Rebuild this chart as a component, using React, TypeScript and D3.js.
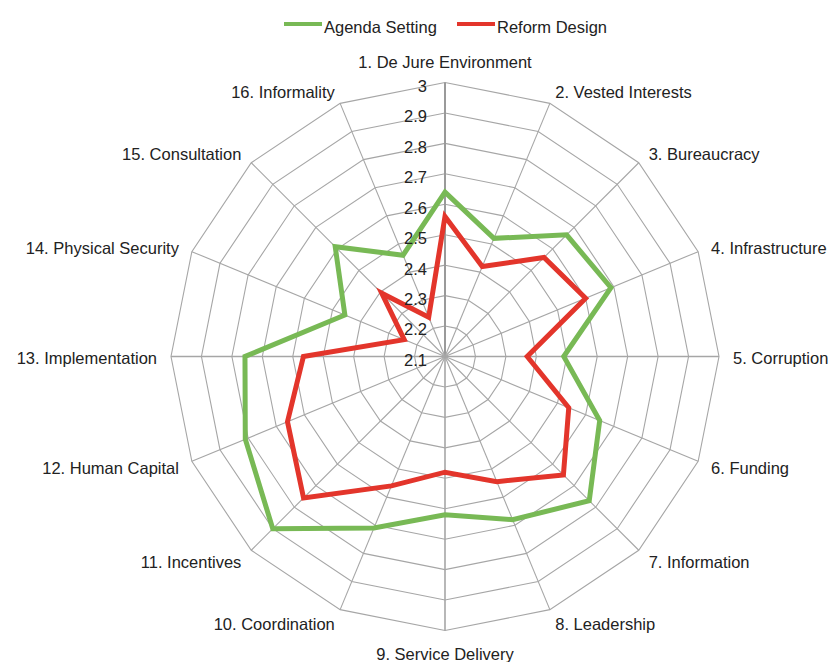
import React from "react";
import * as d3 from "d3";

const categories = [
  "1. De Jure Environment",
  "2. Vested Interests",
  "3. Bureaucracy",
  "4. Infrastructure",
  "5. Corruption",
  "6. Funding",
  "7. Information",
  "8. Leadership",
  "9. Service Delivery",
  "10. Coordination",
  "11. Incentives",
  "12. Human Capital",
  "13. Implementation",
  "14. Physical Security",
  "15. Consultation",
  "16. Informality",
];

const agendaSetting = [2.64, 2.52, 2.665, 2.69, 2.49, 2.65, 2.77, 2.68, 2.62, 2.71, 2.9, 2.81, 2.757, 2.456, 2.61, 2.46];
const reformDesign = [2.56, 2.42, 2.56, 2.6, 2.37, 2.54, 2.65, 2.545, 2.48, 2.56, 2.757, 2.66, 2.565, 2.245, 2.394, 2.24];

const tickValues = [2.1, 2.2, 2.3, 2.4, 2.5, 2.6, 2.7, 2.8, 2.9, 3.0];
const tickLabels = ["2.1", "2.2", "2.3", "2.4", "2.5", "2.6", "2.7", "2.8", "2.9", "3"];

const seriesNames = ["Agenda Setting", "Reform Design"];
const seriesColors = ["#78b955", "#e3352b"];

const W = 830;
const H = 662;
const cx = 445;
const cy = 356.5;
const R = 274;
const FONT = "'Liberation Sans', Arial, sans-serif";
const FS = 16.5;

export default function App() {
  const r = d3.scaleLinear().domain([2.1, 3.0]).range([0, R]);
  const n = categories.length;
  const angle = (i: number) => (i * 2 * Math.PI) / n;
  const pt = (i: number, rad: number): [number, number] => [
    cx + rad * Math.sin(angle(i)),
    cy - rad * Math.cos(angle(i)),
  ];

  const radial = d3
    .lineRadial<number>()
    .angle((_, i) => angle(i))
    .radius((d) => r(d))
    .curve(d3.curveLinearClosed);

  const ringValues = tickValues.filter((v) => v > 2.1);

  const series = [agendaSetting, reformDesign];

  return (
    <svg
      width={W}
      height={H}
      style={{ position: "absolute", left: 0, top: 0, background: "#fff" }}
      fontFamily={FONT}
    >
      {/* rings */}
      <g>
        {ringValues.map((v, k) => (
          <path
            key={k}
            d={radial(categories.map(() => v)) || ""}
            transform={`translate(${cx},${cy})`}
            fill="none"
            stroke="#a6a6a6"
            strokeWidth={1.1}
          />
        ))}
      </g>
      {/* spokes */}
      <g>
        {categories.map((_, i) => {
          const [x2, y2] = pt(i, R);
          const main = i === 0;
          const ortho = i % 4 === 0;
          return (
            <line
              key={i}
              x1={cx}
              y1={cy}
              x2={x2}
              y2={y2}
              stroke={main ? "#9a9a9a" : "#a6a6a6"}
              strokeWidth={main ? 2 : ortho ? 1.6 : 1.1}
            />
          );
        })}
      </g>
      {/* series */}
      <g>
        {series.map((s, k) => (
          <path
            key={k}
            d={radial(s) || ""}
            transform={`translate(${cx},${cy})`}
            fill="none"
            stroke={seriesColors[k]}
            strokeWidth={5}
            strokeLinejoin="miter"
          />
        ))}
      </g>
      {/* tick labels */}
      <g fontSize={FS} fill="#222" textAnchor="end">
        {tickValues.map((v, k) => (
          <text key={k} x={cx - 18} y={cy - r(v) + 5} dominantBaseline="middle">
            {tickLabels[k]}
          </text>
        ))}
      </g>
      {/* category labels */}
      <g fontSize={FS} fill="#222">
        {categories.map((c, i) => {
          const sn = Math.sin(angle(i));
          const vertical = Math.abs(sn) < 0.01;
          const d = vertical ? 22 : 14;
          const [x, y] = pt(i, R + d);
          const anchor = vertical ? "middle" : sn > 0 ? "start" : "end";
          return (
            <text key={i} x={x} y={y + 3} textAnchor={anchor} dominantBaseline="middle">
              {c}
            </text>
          );
        })}
      </g>
      {/* legend */}
      <g fontSize={FS} fill="#222">
        {seriesNames.map((name, k) => {
          const x0 = k === 0 ? 284 : 457;
          return (
            <g key={k}>
              <line x1={x0} y1={24} x2={x0 + 38} y2={24} stroke={seriesColors[k]} strokeWidth={4} />
              <text x={x0 + 40} y={29} dominantBaseline="middle">
                {name}
              </text>
            </g>
          );
        })}
      </g>
    </svg>
  );
}
